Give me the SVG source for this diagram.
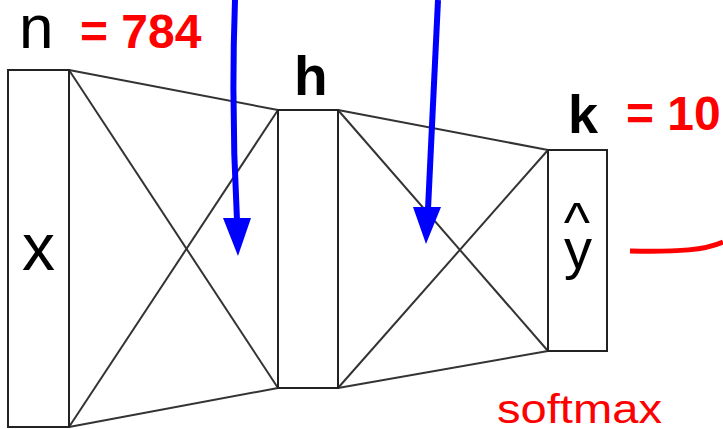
<svg xmlns="http://www.w3.org/2000/svg" width="723" height="429" viewBox="0 0 723 429">
<style>
.box{fill:#fff;stroke:#222;stroke-width:2}
.conn{stroke:#333;stroke-width:2;fill:none}
.lbl{font-family:"Liberation Sans",Arial,sans-serif;fill:#000}
.bold{font-weight:bold}
.red{fill:#ff0000}
.blue{stroke:#0000ff;stroke-width:6;fill:none}
.head{fill:#0000ff}
</style>
<rect width="723" height="429" fill="#fff"/>
<g id="connectors">
<line class="conn" x1="69" y1="70" x2="278" y2="110"/>
<line class="conn" x1="69" y1="70" x2="278" y2="388"/>
<line class="conn" x1="69" y1="427" x2="278" y2="110"/>
<line class="conn" x1="69" y1="427" x2="278" y2="388"/>
<line class="conn" x1="338" y1="110" x2="548" y2="150"/>
<line class="conn" x1="338" y1="110" x2="548" y2="351"/>
<line class="conn" x1="338" y1="388" x2="548" y2="150"/>
<line class="conn" x1="338" y1="388" x2="548" y2="351"/>
</g>
<g id="node-x">
<rect class="box" x="8" y="70" width="61" height="357"/>
<text class="lbl" x="22" y="270" font-size="66">x</text>
<text class="lbl" x="19" y="48" font-size="62">n</text>
<text class="lbl bold red" x="80" y="48" font-size="48">= 784</text>
</g>
<g id="node-h">
<rect class="box" x="278" y="110" width="60" height="278"/>
<text class="lbl bold" x="294" y="95" font-size="55" fill="#111">h</text>
</g>
<g id="node-y">
<rect class="box" x="548" y="150" width="59" height="201"/>
<text class="lbl" font-size="56" text-anchor="middle"><tspan x="577" y="241">^</tspan><tspan x="578" y="268">y</tspan></text>
<text class="lbl bold" x="568" y="133" font-size="54" fill="#111">k</text>
<text class="lbl bold red" x="626" y="130" font-size="48">= 10</text>
<text class="lbl red" x="497" y="423" font-size="40" textLength="165" lengthAdjust="spacingAndGlyphs">softmax</text>
</g>
<g id="arrows">
<path class="blue" d="M235,0 Q231,110 237,220"/>
<polygon class="head" points="223,218 251,218 238,256"/>
<path class="blue" d="M438,0 L428,209"/>
<polygon class="head" points="413,207 441,207 426,244"/>
<path d="M630,251 C680,252 705,250 723,242" stroke="#ff0000" stroke-width="5" fill="none"/>
</g>
</svg>
